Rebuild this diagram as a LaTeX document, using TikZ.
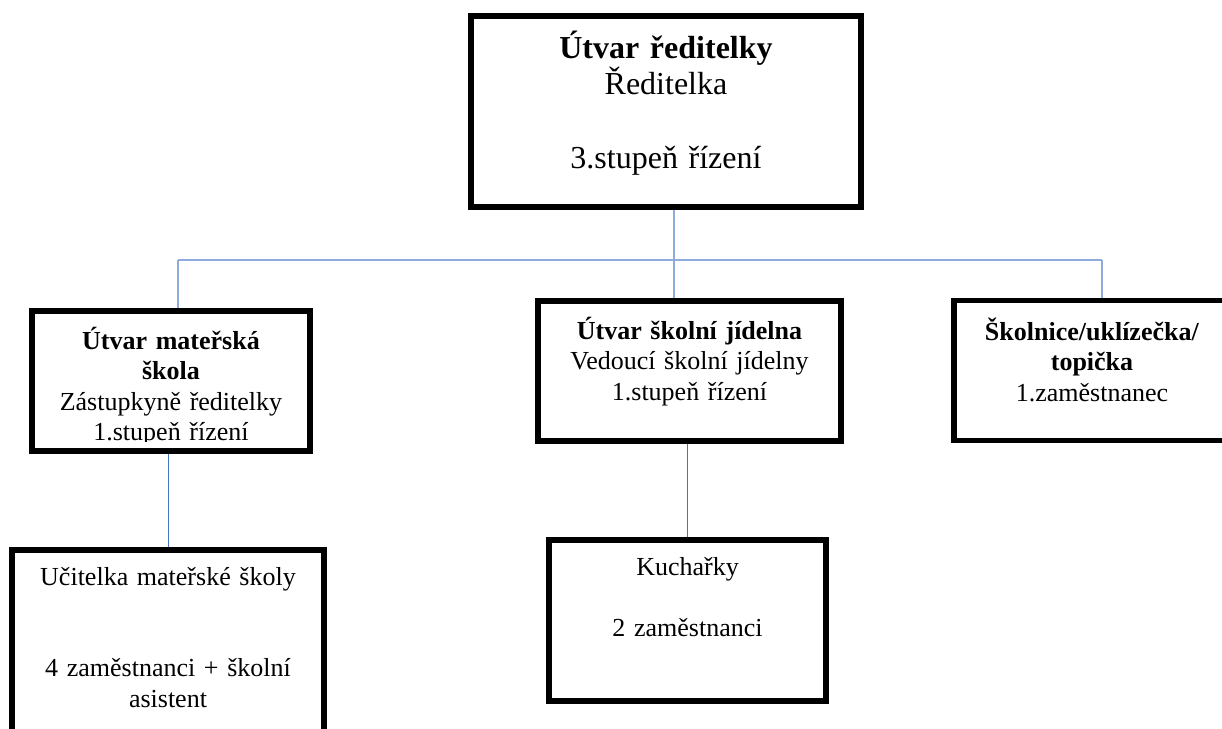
\documentclass[tikz,border=0pt]{standalone}
\usepackage{fontspec}
\setmainfont{Liberation Serif}
\usepackage{xcolor}
\definecolor{busblue}{RGB}{143,170,220}
\definecolor{linkblue}{RGB}{68,114,196}

\begin{document}
\begin{tikzpicture}[
      x=1pt, y=-1pt,
      box/.style={draw, line width=5.5pt, inner sep=0pt},
      big/.style={font=\fontsize{32pt}{36.8pt}\selectfont, text width=380pt,
        align=center, anchor=base, inner sep=0pt},
      small/.style={font=\fontsize{26pt}{30.5pt}\selectfont, text width=300pt,
        align=center, anchor=base, inner sep=0pt},
      bus/.style={draw=busblue, line width=1.3pt},
      link/.style={draw=linkblue, line width=1pt},
    ]

    \useasboundingbox (0,0) rectangle (1222,728);
    \clip (0,0) rectangle (1222,728);

    \node[box, minimum width=390pt, minimum height=191pt] (dir) at (666,111.5) {};
    \node[box, minimum width=278pt, minimum height=140pt] (ms)  at (171,381) {};
    \node[box, minimum width=303pt, minimum height=140pt] (sj)  at (689.5,371) {};
    \node[box, minimum width=276pt, minimum height=140pt] (sk)  at (1092,370.5) {};
    \node[box, minimum width=312pt, minimum height=220pt] (uc)  at (168,660) {};
    \node[box, minimum width=277pt, minimum height=161pt] (ku)  at (687.5,620.5) {};

    \node[big] (dir-t) at (666,58)
      {\textbf{Útvar ředitelky}\\ Ředitelka\\[36.8pt] 3.stupeň řízení};
    \begin{scope}
      \clip (ms.north west) rectangle (310,441);
      \node[small] (ms-t) at (171,349)
        {\textbf{Útvar mateřská}\\ \textbf{škola}\\ Zástupkyně ředitelky\\ 1.stupeň řízení};
    \end{scope}
    \node[small] (sj-t) at (689.5,339)
      {\textbf{Útvar školní jídelna}\\ Vedoucí školní jídelny\\ 1.stupeň řízení};
    \node[small] (sk-t) at (1092,340)
      {\textbf{Školnice/uklízečka/}\\ \textbf{topička}\\ 1.zaměstnanec};
    \node[small] (uc-t) at (168,585)
      {Učitelka mateřské školy\\[61pt] 4 zaměstnanci + školní\\ asistent};
    \node[small] (ku-t) at (687.5,575)
      {Kuchařky\\[30.5pt] 2 zaměstnanci};

    \coordinate (b1) at (178,260);
    \coordinate (b2) at (674,260);
    \coordinate (b3) at (1102,260);

    \path[bus]
    (dir.south -| b2) -- (b2)
    (b1) -- (b3)
    (b1) -- (b1 |- ms.north)
    (b2) -- (b2 |- sj.north)
    (b3) -- (b3 |- sk.north);

    \path[link]
    (uc.north |- ms.south) -- (uc.north)
    (ku.north |- sj.south) -- (ku.north);

  \end{tikzpicture}
\end{document}
